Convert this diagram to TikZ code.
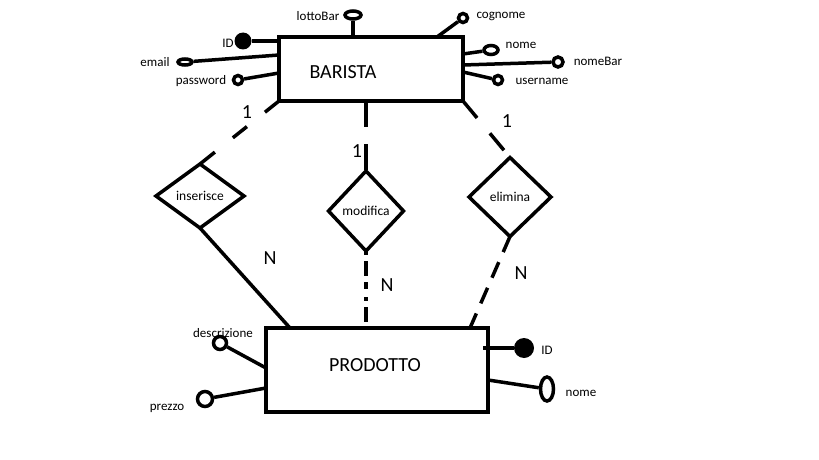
\documentclass[tikz,border=0pt]{standalone}
\usepackage{fontspec}
\setmainfont{Carlito}
\usetikzlibrary{shapes.geometric,calc}

\begin{document}
\begin{tikzpicture}[x=1pt,y=-1pt,
    entita/.style={draw, rectangle, line width=4.5pt, inner sep=0pt, outer sep=0pt},
    relazione/.style={draw, diamond, line width=3.5pt, inner sep=0pt, outer sep=0pt,
                      font=\fontsize{13.5}{15}\selectfont},
    attr/.style={draw, circle, line width=3.5pt, inner sep=0pt},
    attrovale/.style={draw, ellipse, line width=3.5pt, inner sep=0pt},
    chiave/.style={fill, circle, inner sep=0pt},
    etichetta/.style={font=\fontsize{13}{15}\selectfont, inner sep=0pt},
    card/.style={font=\fontsize{20}{22}\selectfont, inner sep=0pt},
    titolo/.style={font=\fontsize{20}{22}\selectfont, inner sep=0pt},
    link/.style={line width=3.5pt},
  ]

    % Área do desenho
    \useasboundingbox (0,0) rectangle (819,460);

    % 1. Entidades
    \node[entita, minimum width=184pt, minimum height=64pt] (barista) at (371,69) {};
    \node[titolo] (barista-t) at (343,72) {BARISTA};
    \node[entita, minimum width=222pt, minimum height=84pt] (prodotto) at (377,370) {};
    \node[titolo] (prodotto-t) at (375,365) {PRODOTTO};

    % 2. Relacionamentos (losangos)
    \node[relazione, minimum width=88pt, minimum height=64pt] (inserisce) at (200,196) {inserisce};
    \node[relazione, minimum width=75pt, minimum height=80pt] (modifica) at (366,211) {modifica};
    \node[relazione, minimum width=82pt, minimum height=79pt] (elimina) at (510,197) {elimina};

    % 3. Atributos de BARISTA
    \node[chiave, minimum size=17pt] (idB) at (243,41) {};
    \node[attrovale, minimum width=14pt, minimum height=6pt] (email) at (185,62) {};
    \node[attr, minimum size=9pt] (password) at (238,80) {};
    \node[attrovale, minimum width=16pt, minimum height=8pt] (lottoBar) at (353,15) {};
    \node[attr, minimum size=9pt] (cognome) at (463,18) {};
    \node[attrovale, minimum width=14pt, minimum height=9pt] (nomeB) at (491,50) {};
    \node[attr, minimum size=10pt] (nomeBar) at (558,62) {};
    \node[attr, minimum size=9pt] (username) at (498,80) {};

    \node[etichetta] (idB-t) at (228,43) {ID};
    \node[etichetta] (email-t) at (155,62) {email};
    \node[etichetta] (password-t) at (201,81) {password};
    \node[etichetta] (lottoBar-t) at (318,16) {lottoBar};
    \node[etichetta] (cognome-t) at (501,16) {cognome};
    \node[etichetta] (nomeB-t) at (521,45) {nome};
    \node[etichetta] (nomeBar-t) at (598,61) {nomeBar};
    \node[etichetta] (username-t) at (542,81) {username};

    \draw[link] (idB) -- (idB -| barista.west);
    \draw[link] (email) -- ($(barista.north west)+(0,18)$);
    \draw[link] (password) -- ($(barista.north west)+(0,36)$);
    \draw[link] (lottoBar) -- (lottoBar |- barista.north);
    \draw[link] (cognome) -- ($(barista.north east)+(-26,0)$);
    \draw[link] (nomeB) -- ($(barista.north east)+(0,17)$);
    \draw[link] (nomeBar) -- ($(barista.north east)+(0,28)$);
    \draw[link] (username) -- ($(barista.north east)+(0,35)$);

    % 4. Atributos de PRODOTTO
    \node[attr, minimum size=13pt] (descrizione) at (220,343) {};
    \node[attr, minimum size=15pt] (prezzo) at (205,399) {};
    \node[chiave, minimum size=20pt] (idP) at (524,348) {};
    \node[attrovale, minimum width=13pt, minimum height=24pt] (nomeP) at (547,389) {};

    \node[etichetta] (descrizione-t) at (223,333) {descrizione};
    \node[etichetta] (prezzo-t) at (167,408) {prezzo};
    \node[etichetta] (idP-t) at (547,350) {ID};
    \node[etichetta] (nomeP-t) at (581,393) {nome};

    \draw[link] (descrizione) -- ($(prodotto.north west)+(0,40)$);
    \draw[link] (prezzo) -- ($(prodotto.north west)+(0,60)$);
    \draw[link] (idP) -- ($(idP -| prodotto.east)+(-5,0)$);
    \draw[link] (nomeP) -- ($(prodotto.north east)+(0,52)$);

    % 5. Ligações e cardinalidades
    \draw[link, dash pattern=on 18pt off 23pt] (barista.south west) -- (inserisce.north);
    \draw[link, dash pattern=on 26pt off 17pt] (modifica.north |- barista.south) -- (modifica.north);
    \draw[link, dash pattern=on 22pt off 20pt] (barista.south east) -- (elimina.north);
    \draw[link] (inserisce.south) -- ($(prodotto.north west)+(24,0)$);
    \draw[link, dash pattern=on 4pt off 6pt on 15pt off 6pt on 7pt off 8pt] (modifica.south) -- (modifica.south |- prodotto.north);
    \draw[link, dash pattern=on 17pt off 11pt] (elimina.south) -- ($(prodotto.north east)+(-18,0)$);

    \node[card] (c1) at (247,112) {1};
    \node[card] (c2) at (357,151) {1};
    \node[card] (c3) at (507,121) {1};
    \node[card] (n1) at (270,258) {N};
    \node[card] (n2) at (387,285) {N};
    \node[card] (n3) at (521,273) {N};

\end{tikzpicture}
\end{document}
